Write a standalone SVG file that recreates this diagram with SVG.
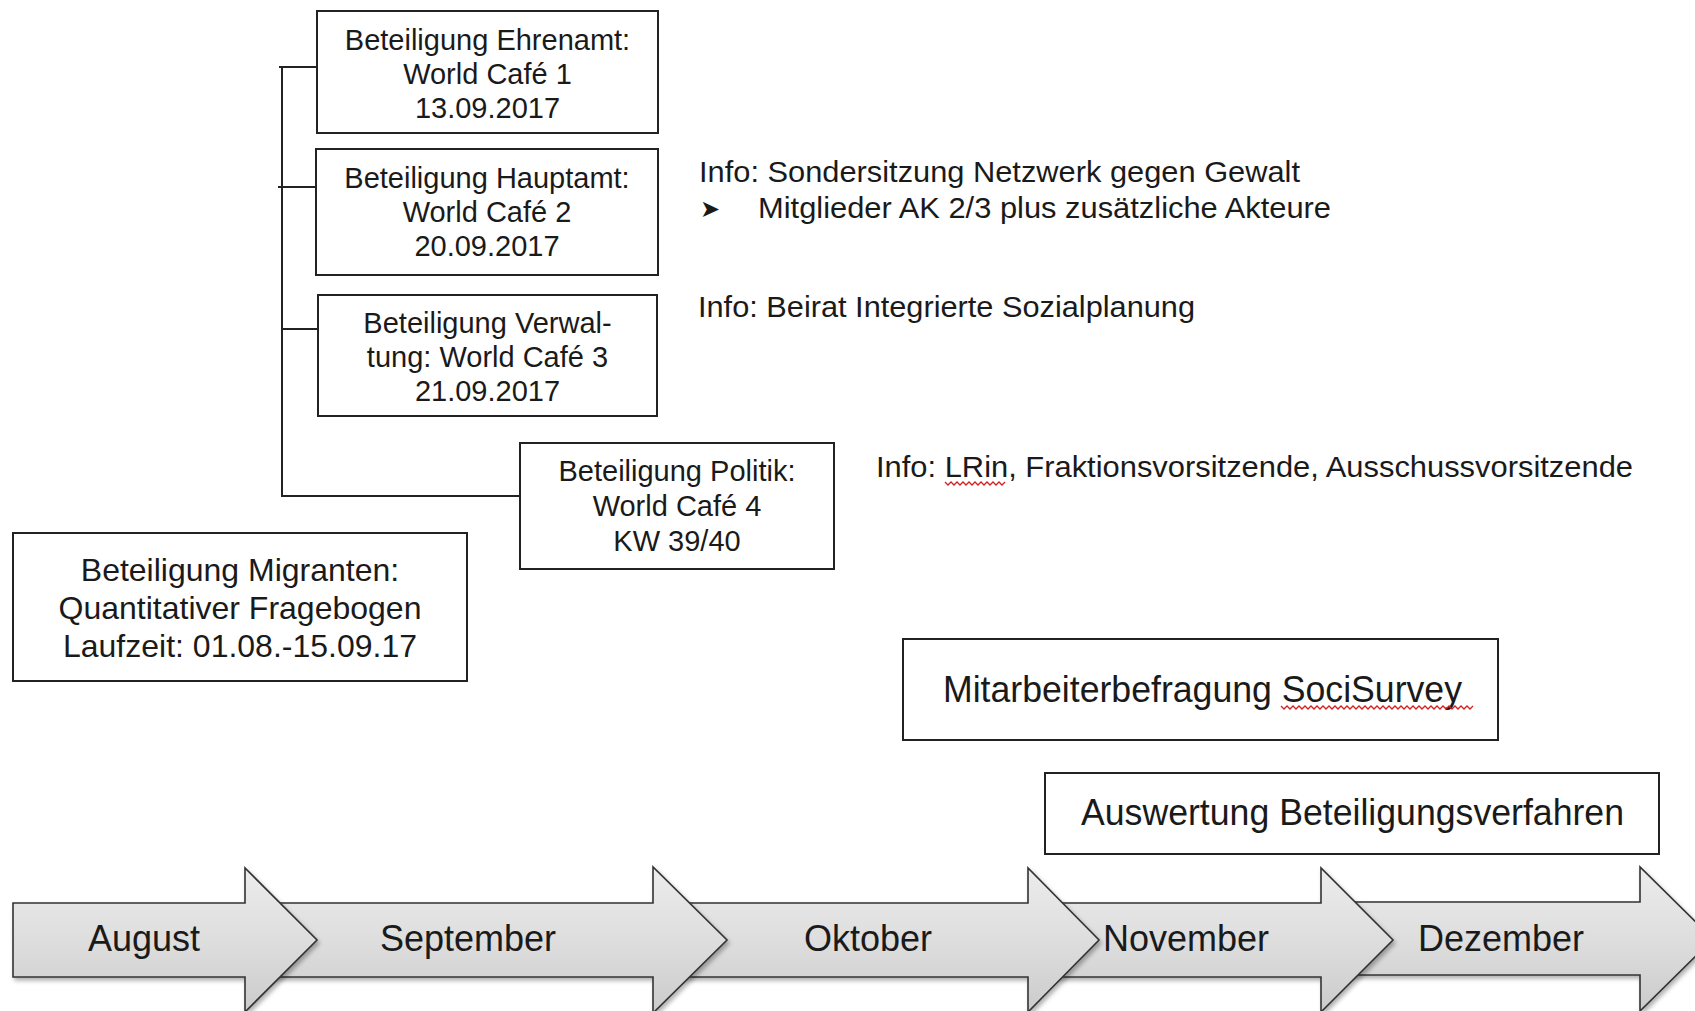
<svg xmlns="http://www.w3.org/2000/svg" width="1695" height="1011" viewBox="0 0 1695 1011">
<style>
.box{fill:#fff;stroke:#222;stroke-width:2}
.t{font-family:"Liberation Sans",Arial,sans-serif;fill:#1a1a1a}
.c{text-anchor:middle}
.bx{font-size:29px}
.mg{font-size:32px}
.info{font-size:30px}
.big{font-size:36px}
.mon{font-size:36px}
.con{fill:none;stroke:#222;stroke-width:2}
.arr{fill:url(#ag);stroke:#333;stroke-width:1.6;stroke-linejoin:miter;filter:url(#sh)}
.sq{fill:none;stroke:#d02020;stroke-width:1.3}
</style>
<defs>
<linearGradient id="ag" x1="0" y1="0" x2="0" y2="1">
<stop offset="0" stop-color="#ececec"/>
<stop offset="0.5" stop-color="#dedede"/>
<stop offset="1" stop-color="#cbcbcb"/>
</linearGradient>
<filter id="sh" x="-5%" y="-10%" width="115%" height="130%">
<feDropShadow dx="2" dy="3" stdDeviation="2" flood-color="#000" flood-opacity="0.3"/>
</filter>
</defs>
<rect width="1695" height="1011" fill="#fff"/>

<g id="connectors">
<path class="con" d="M282,67 V496 H520"/>
<path class="con" d="M279,67 H317"/>
<path class="con" d="M278,187 H316"/>
<path class="con" d="M282,329 H318"/>
</g>

<g id="n-ehrenamt">
<rect class="box" x="317" y="11" width="341" height="122"/>
<text class="t c bx" x="487.5" y="50">Beteiligung Ehrenamt:</text>
<text class="t c bx" x="487.5" y="84">World Café 1</text>
<text class="t c bx" x="487.5" y="118">13.09.2017</text>
</g>

<g id="n-hauptamt">
<rect class="box" x="316" y="149" width="342" height="126"/>
<text class="t c bx" x="487" y="188">Beteiligung Hauptamt:</text>
<text class="t c bx" x="487" y="222">World Café 2</text>
<text class="t c bx" x="487" y="256">20.09.2017</text>
</g>

<g id="n-verwaltung">
<rect class="box" x="318" y="295" width="339" height="121"/>
<text class="t c bx" x="487.5" y="333">Beteiligung Verwal-</text>
<text class="t c bx" x="487.5" y="367">tung: World Café 3</text>
<text class="t c bx" x="487.5" y="401">21.09.2017</text>
</g>

<g id="n-politik">
<rect class="box" x="520" y="443" width="314" height="126"/>
<text class="t c bx" x="677" y="481">Beteiligung Politik:</text>
<text class="t c bx" x="677" y="516">World Café 4</text>
<text class="t c bx" x="677" y="551">KW 39/40</text>
</g>

<g id="n-migranten">
<rect class="box" x="13" y="533" width="454" height="148"/>
<text class="t c mg" x="240" y="581">Beteiligung Migranten:</text>
<text class="t c mg" x="240" y="619">Quantitativer Fragebogen</text>
<text class="t c mg" x="240" y="657">Laufzeit: 01.08.-15.09.17</text>
</g>

<g id="info-netzwerk">
<text class="t info" x="699" y="182" textLength="601" lengthAdjust="spacingAndGlyphs">Info: Sondersitzung Netzwerk gegen Gewalt</text>
<text class="t" x="700" y="217" style="font-family:'DejaVu Sans',sans-serif;font-size:24px">➤</text>
<text class="t info" x="758" y="218" textLength="573" lengthAdjust="spacingAndGlyphs">Mitglieder AK 2/3 plus zusätzliche Akteure</text>
</g>

<g id="info-beirat">
<text class="t info" x="698" y="317" textLength="497" lengthAdjust="spacingAndGlyphs">Info: Beirat Integrierte Sozialplanung</text>
</g>

<g id="info-politik">
<text class="t info" x="876" y="477" textLength="757" lengthAdjust="spacingAndGlyphs">Info: LRin, Fraktionsvorsitzende, Ausschussvorsitzende</text>
<path class="sq" d="M945,482 l3,3 l3,-3 l3,3 l3,-3 l3,3 l3,-3 l3,3 l3,-3 l3,3 l3,-3 l3,3 l3,-3 l3,3 l3,-3 l3,3 l3,-3 l3,3 l3,-3 l3,3 l3,-3"/>
</g>

<g id="n-mitarbeiter">
<rect class="box" x="903" y="639" width="595" height="101"/>
<text class="t big" x="943" y="702" textLength="519" lengthAdjust="spacingAndGlyphs">Mitarbeiterbefragung SociSurvey</text>
<path class="sq" d="M1281,706 l3,3 l3,-3 l3,3 l3,-3 l3,3 l3,-3 l3,3 l3,-3 l3,3 l3,-3 l3,3 l3,-3 l3,3 l3,-3 l3,3 l3,-3 l3,3 l3,-3 l3,3 l3,-3 l3,3 l3,-3 l3,3 l3,-3 l3,3 l3,-3 l3,3 l3,-3 l3,3 l3,-3 l3,3 l3,-3 l3,3 l3,-3 l3,3 l3,-3 l3,3 l3,-3 l3,3 l3,-3 l3,3 l3,-3 l3,3 l3,-3 l3,3 l3,-3 l3,3 l3,-3 l3,3 l3,-3 l3,3 l3,-3 l3,3 l3,-3 l3,3 l3,-3 l3,3 l3,-3 l3,3 l3,-3 l3,3 l3,-3 l3,3 l3,-3"/>
</g>

<g id="n-auswertung">
<rect class="box" x="1045" y="773" width="614" height="81"/>
<text class="t big" x="1081" y="825" textLength="543" lengthAdjust="spacingAndGlyphs">Auswertung Beteiligungsverfahren</text>
</g>

<g id="timeline">
<g id="m-dezember">
<path class="arr" d="M1335,902 H1640 V867 L1713,939 L1640,1011 V975 H1335 Z"/>
<text class="t c mon" x="1501" y="951">Dezember</text>
</g>
<g id="m-november">
<path class="arr" d="M1040,903 H1321 V868 L1393,940 L1321,1012 V977 H1040 Z"/>
<text class="t mon" x="1103" y="951">November</text>
</g>
<g id="m-oktober">
<path class="arr" d="M665,903 H1028 V868 L1099,940 L1028,1012 V977 H665 Z"/>
<text class="t c mon" x="868" y="951">Oktober</text>
</g>
<g id="m-september">
<path class="arr" d="M260,903 H653 V867 L727,940 L653,1013 V977 H260 Z"/>
<text class="t c mon" x="468" y="951">September</text>
</g>
<g id="m-august">
<path class="arr" d="M13,903 H245 V868 L317,940 L245,1012 V977 H13 Z"/>
<text class="t c mon" x="144" y="951">August</text>
</g>
</g>
</svg>
